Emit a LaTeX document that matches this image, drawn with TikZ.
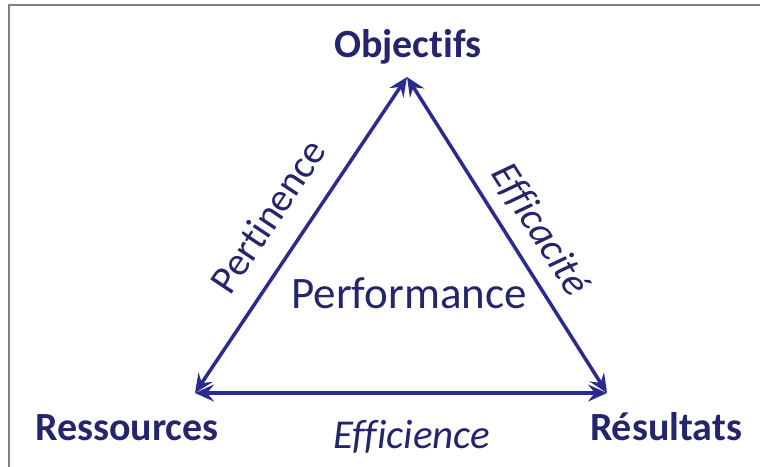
\documentclass[tikz,border=0pt]{standalone}
\usepackage{fontspec}
\setmainfont[Ligatures={NoCommon}]{Carlito}
\usetikzlibrary{arrows.meta}
\definecolor{navy}{HTML}{25256E}
\definecolor{arrowblue}{HTML}{2B2B8E}
\definecolor{framegray}{HTML}{808080}
\newcommand{\nl}{\kern0pt{}}
\begin{document}
\begin{tikzpicture}[x=1pt,y=-1pt,
  vertex/.style={font=\fontsize{40}{48}\selectfont\bfseries, text=navy, anchor=base, inner sep=0pt},
  sidelabel/.style={font=\fontsize{40}{48}\selectfont, text=navy, inner sep=0pt},
  link/.style={draw=arrowblue, line width=3.5pt, {Stealth[length=19pt,width=17pt,inset=7pt]}-{Stealth[length=19pt,width=17pt,inset=7pt]}}]
\useasboundingbox (0,0) rectangle (760,466);
\draw[framegray, line width=2.5pt] (9,470) -- (9,5) -- (765,5);
\coordinate (A) at (407,77);
\coordinate (B) at (195,393);
\coordinate (C) at (607,393);
\node[vertex] (obj) at (408,57) {Objec\nl t\nl i\nl f\nl s};
\node[vertex] (res) at (127,440) {Ressources};
\node[vertex] (resu) at (666,440) {Résultats};
\draw[link] (B) -- (A);
\draw[link] (A) -- (C);
\draw[link] (B) -- (C);
\node[sidelabel, anchor=base, font=\fontsize{45}{54}\selectfont] (perf) at (409,308) {Performance};
\node[sidelabel, anchor=base, font=\fontsize{41}{48}\selectfont\itshape] (effi) at (412,448) {Ef\nl f\nl i\nl cience};
\node[sidelabel, rotate=56.2] (pert) at (268,216) {Per\nl t\nl inence};
\node[sidelabel, rotate=-57.6, font=\fontsize{40}{48}\selectfont\itshape] (effc) at (540,230) {Ef\nl f\nl i\nl caci\nl t\nl é};
\end{tikzpicture}
\end{document}
